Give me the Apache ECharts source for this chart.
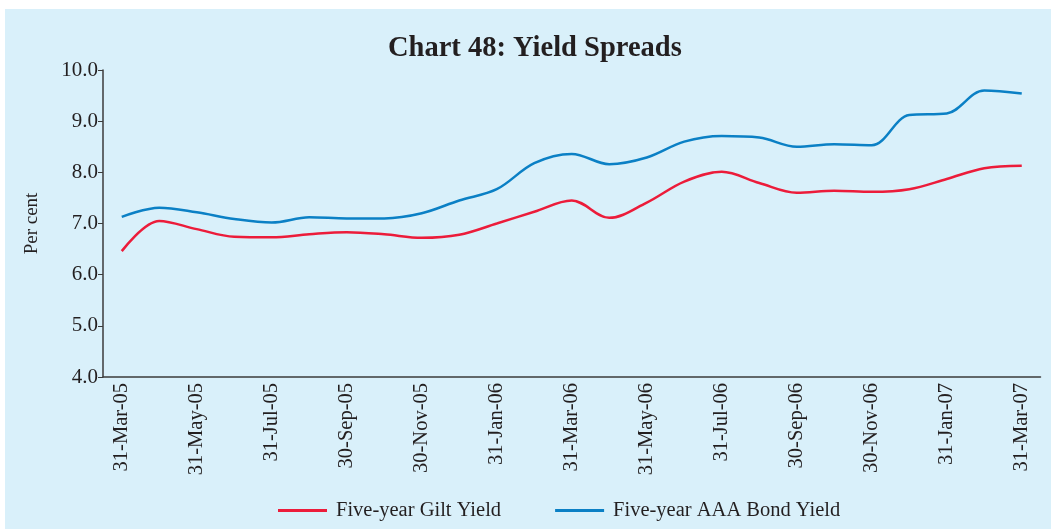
<!DOCTYPE html>
<html>
<head>
<meta charset="utf-8">
<script src="https://cdn.jsdelivr.net/npm/echarts@6/dist/echarts.min.js"></script>
<style>
  html, body { margin: 0; padding: 0; background: #fff; }
  #panel { position: absolute; left: 5px; top: 9px; width: 1046px; height: 520px; background: #d9f0fa; }
  #chart { width: 1046px; height: 520px; }
</style>
</head>
<body>
<div id="panel"><div id="chart"></div></div>
<script>
// month-end dates, Mar-05 .. Mar-07
const months = [
  '31-Mar-05', '30-Apr-05', '31-May-05', '30-Jun-05', '31-Jul-05', '31-Aug-05',
  '30-Sep-05', '31-Oct-05', '30-Nov-05', '31-Dec-05', '31-Jan-06', '28-Feb-06',
  '31-Mar-06', '30-Apr-06', '31-May-06', '30-Jun-06', '31-Jul-06', '31-Aug-06',
  '30-Sep-06', '31-Oct-06', '30-Nov-06', '31-Dec-06', '31-Jan-07', '28-Feb-07',
  '31-Mar-07'
]
const giltYield = [
  6.46, 7.05, 6.89, 6.74, 6.73, 6.79, 6.83, 6.79, 6.72, 6.78, 7.00, 7.23,
  7.45, 7.11, 7.41, 7.82, 8.01, 7.79, 7.60, 7.64, 7.62, 7.67, 7.87, 8.08, 8.13
]
const aaaYield = [
  7.13, 7.31, 7.22, 7.09, 7.02, 7.12, 7.10, 7.10, 7.20, 7.45, 7.67, 8.18,
  8.36, 8.16, 8.29, 8.60, 8.71, 8.68, 8.50, 8.55, 8.53, 9.12, 9.15, 9.60, 9.54
]

const txt = '#231f20'
const serif = '"Liberation Serif", "DejaVu Serif", serif'

const chart = echarts.init(document.getElementById('chart'))

const lineSeries = (name, data, color) => ({
  name,
  type: 'line',
  data,
  smooth: 0.35,
  symbol: 'none',
  color,
  lineStyle: { width: 2.5, color }
})

chart.setOption({
  animation: false,
  textStyle: { fontFamily: serif, color: txt },
  title: {
    text: 'Chart 48: Yield Spreads',
    left: 378,
    top: 20,
    textStyle: { fontFamily: serif, fontSize: 28.5, fontWeight: 'bold', color: txt }
  },
  grid: { left: 98, right: 10.5, top: 61, bottom: 152 },
  legend: {
    bottom: 3,
    left: 268,
    itemWidth: 49,
    itemHeight: 3,
    itemGap: 54,
    icon: 'rect',
    textStyle: { fontFamily: serif, fontSize: 20.5, color: txt, padding: [0, 0, 0, 4] },
    data: ['Five-year Gilt Yield', 'Five-year AAA Bond Yield']
  },
  xAxis: {
    type: 'category',
    data: months,
    boundaryGap: true,
    axisLine: { lineStyle: { color: '#3b3b3b', width: 1.5 } },
    axisTick: { interval: 1, length: 5, lineStyle: { color: '#3b3b3b' } },
    axisLabel: { interval: 1, rotate: 90, margin: 6, fontSize: 20.5, fontFamily: serif, color: txt }
  },
  yAxis: {
    type: 'value',
    min: 4,
    max: 10,
    interval: 1,
    name: 'Per cent',
    nameLocation: 'middle',
    nameGap: 61,
    nameRotate: 90,
    nameTextStyle: { fontFamily: serif, fontSize: 19, color: txt },
    splitLine: { show: false },
    axisLine: { show: true, lineStyle: { color: '#3b3b3b', width: 1.5 } },
    axisTick: { show: true, length: 5, lineStyle: { color: '#3b3b3b' } },
    axisLabel: {
      margin: 5, fontSize: 21, fontFamily: serif, color: txt,
      formatter: v => v.toFixed(1)
    }
  },
  series: [
    lineSeries('Five-year Gilt Yield', giltYield, '#ec1c3a'),
    lineSeries('Five-year AAA Bond Yield', aaaYield, '#0b80c5')
  ]
})
</script>
</body>
</html>
